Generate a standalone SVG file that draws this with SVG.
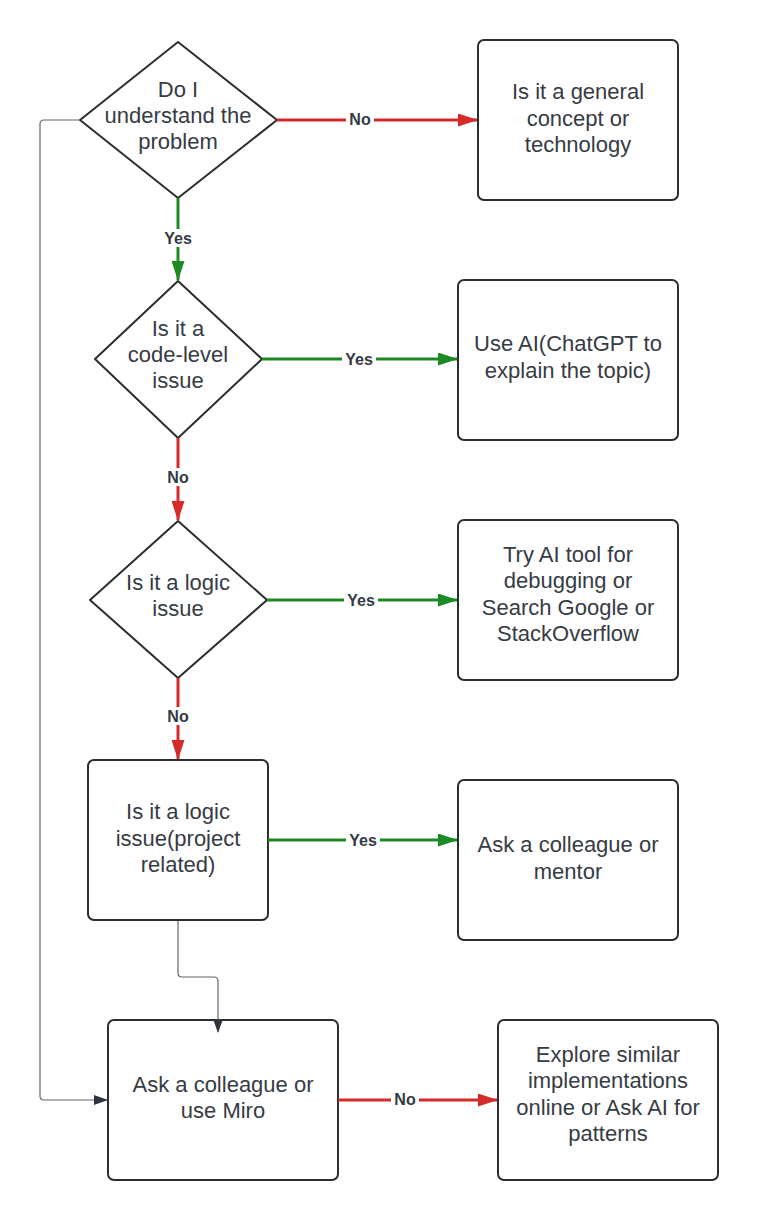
<svg xmlns="http://www.w3.org/2000/svg" width="758" height="1220" viewBox="0 0 758 1220">
<style>
.n{fill:#fff;stroke:#2a2d31;stroke-width:2}
.t{font-family:"Liberation Sans",Arial,sans-serif;font-size:22px;fill:#363b44;text-anchor:middle}
.l{font-family:"Liberation Sans",Arial,sans-serif;font-size:16px;font-weight:bold;fill:#333a44;text-anchor:middle}
.r{fill:none;stroke:#d42a2a;stroke-width:3}
.g{fill:none;stroke:#1c8a22;stroke-width:3}
.k{fill:none;stroke:#5e6670;stroke-width:1.2}
.lb{fill:#fff}
</style>
<defs>
<marker id="ar" viewBox="0 0 20 13" refX="19" refY="6.5" markerWidth="20" markerHeight="13" markerUnits="userSpaceOnUse" orient="auto"><path d="M0,0L20,6.5L0,13z" fill="#d42a2a"/></marker>
<marker id="ag" viewBox="0 0 20 13" refX="19" refY="6.5" markerWidth="20" markerHeight="13" markerUnits="userSpaceOnUse" orient="auto"><path d="M0,0L20,6.5L0,13z" fill="#1c8a22"/></marker>
<marker id="ak" viewBox="0 0 14 10" refX="13" refY="5" markerWidth="14" markerHeight="10" markerUnits="userSpaceOnUse" orient="auto"><path d="M0,0L14,5L0,10z" fill="#2f3540"/></marker>
</defs>
<rect width="758" height="1220" fill="#fff"/>
<g id="d1"><path class="n" d="M178,42L277,120L178,198L80,120Z" stroke-linejoin="round"/>
<text class="t" x="178" y="97">Do I</text><text class="t" x="178" y="123">understand the</text><text class="t" x="178" y="149">problem</text></g>
<g id="b1"><rect class="n" x="478" y="40" width="200" height="160" rx="6"/>
<text class="t" x="578" y="99">Is it a general</text><text class="t" x="578" y="126">concept or</text><text class="t" x="578" y="152">technology</text></g>
<g id="d2"><path class="n" d="M178,281L262,359L178,438L95,359Z" stroke-linejoin="round"/>
<text class="t" x="178" y="336">Is it a</text><text class="t" x="178" y="362">code-level</text><text class="t" x="178" y="388">issue</text></g>
<g id="b2"><rect class="n" x="458" y="280" width="220" height="160" rx="6"/>
<text class="t" x="568" y="351">Use AI(ChatGPT to</text><text class="t" x="568" y="378">explain the topic)</text></g>
<g id="d3"><path class="n" d="M178,521L267,600L178,678L90,600Z" stroke-linejoin="round"/>
<text class="t" x="178" y="590">Is it a logic</text><text class="t" x="178" y="616">issue</text></g>
<g id="b3"><rect class="n" x="458" y="520" width="220" height="160" rx="6"/>
<text class="t" x="568" y="562">Try AI tool for</text><text class="t" x="568" y="588">debugging or</text><text class="t" x="568" y="615">Search Google or</text><text class="t" x="568" y="641">StackOverflow</text></g>
<g id="b4"><rect class="n" x="88" y="760" width="180" height="160" rx="6"/>
<text class="t" x="178" y="819">Is it a logic</text><text class="t" x="178" y="846">issue(project</text><text class="t" x="178" y="872">related)</text></g>
<g id="b5"><rect class="n" x="458" y="780" width="220" height="160" rx="6"/>
<text class="t" x="568" y="852">Ask a colleague or</text><text class="t" x="568" y="879">mentor</text></g>
<g id="b6"><rect class="n" x="108" y="1020" width="230" height="160" rx="6"/>
<text class="t" x="223" y="1092">Ask a colleague or</text><text class="t" x="223" y="1118">use Miro</text></g>
<g id="b7"><rect class="n" x="498" y="1020" width="220" height="160" rx="6"/>
<text class="t" x="608" y="1062">Explore similar</text><text class="t" x="608" y="1088">implementations</text><text class="t" x="608" y="1115">online or Ask AI for</text><text class="t" x="608" y="1141">patterns</text></g>
<g id="connectors">
<path class="r" d="M277,120H477" style="marker-end:url(#ar)"/>
<rect class="lb" x="346" y="110" width="28" height="18"/><text class="l" x="360" y="125">No</text>
<path class="g" d="M178,198V280" style="marker-end:url(#ag)"/>
<rect class="lb" x="161" y="229" width="34" height="18"/><text class="l" x="178" y="244">Yes</text>
<path class="g" d="M262,359H457" style="marker-end:url(#ag)"/>
<rect class="lb" x="342" y="350" width="34" height="18"/><text class="l" x="359" y="365">Yes</text>
<path class="r" d="M178,438V520" style="marker-end:url(#ar)"/>
<rect class="lb" x="164" y="468" width="28" height="18"/><text class="l" x="178" y="483">No</text>
<path class="g" d="M267,600H457" style="marker-end:url(#ag)"/>
<rect class="lb" x="344" y="591" width="34" height="18"/><text class="l" x="361" y="606">Yes</text>
<path class="r" d="M178,678V759" style="marker-end:url(#ar)"/>
<rect class="lb" x="164" y="707" width="28" height="18"/><text class="l" x="178" y="722">No</text>
<path class="g" d="M268,840H457" style="marker-end:url(#ag)"/>
<rect class="lb" x="346" y="831" width="34" height="18"/><text class="l" x="363" y="846">Yes</text>
<path class="k" d="M178,921V973Q178,977 182,977H214Q218,977 218,981V1032" style="marker-end:url(#ak)"/>
<path class="k" d="M79,120H44Q40,120 40,124V1096Q40,1100 44,1100H107" style="marker-end:url(#ak)"/>
<path class="r" d="M338,1100H497" style="marker-end:url(#ar)"/>
<rect class="lb" x="391" y="1090" width="28" height="18"/><text class="l" x="405" y="1105">No</text>
</g>
</svg>
